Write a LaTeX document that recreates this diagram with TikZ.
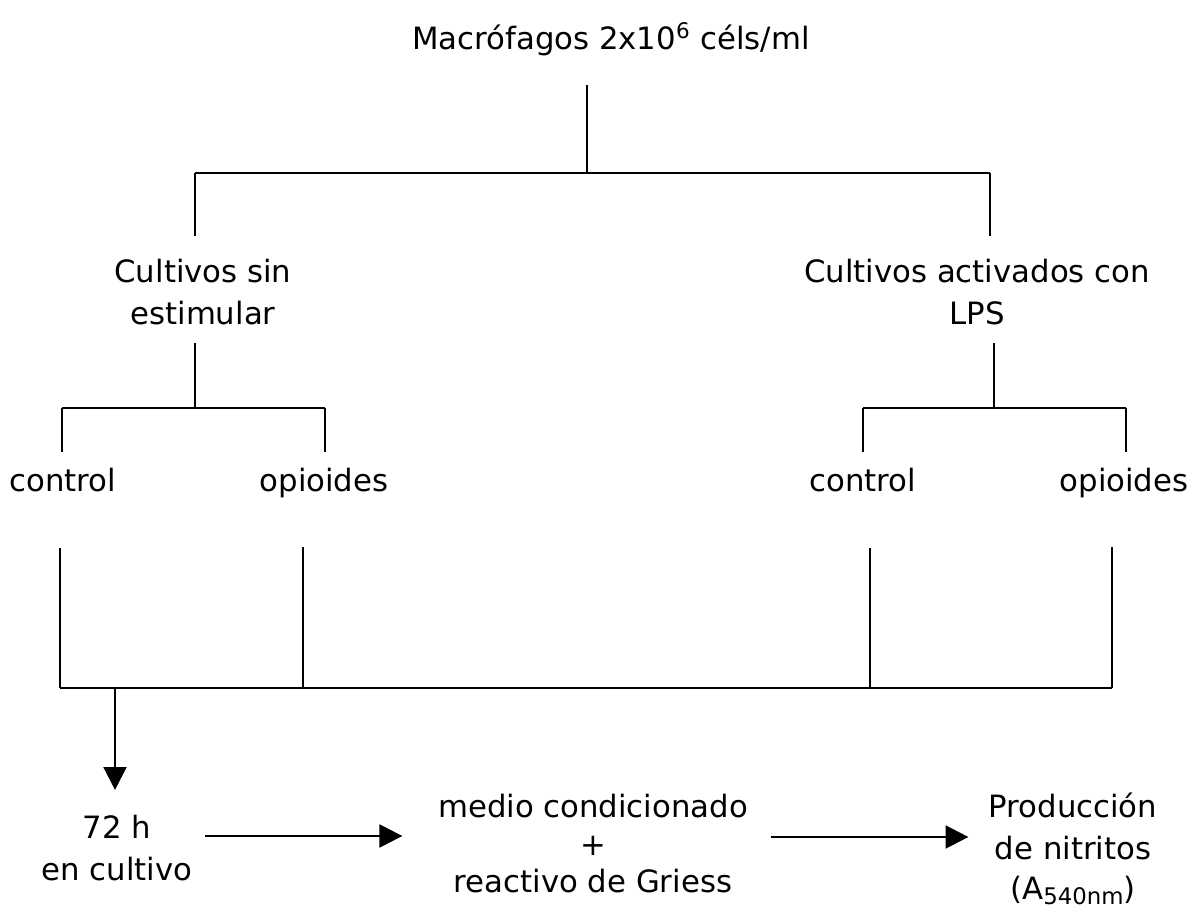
\documentclass[tikz,border=0pt]{standalone}
\usepackage{fontspec}
\setmainfont{DejaVu Sans}
\usepackage{tikz}
\usetikzlibrary{arrows.meta, calc}

\tikzset{
	lbl/.style={inner sep=0pt, outer sep=0pt, align=center, font=\fontsize{17.5}{23.8}\selectfont},
	wire/.style={line width=1.4pt},
	flecha/.style={wire, -{Triangle[length=13pt, width=13pt]}}
}

\begin{document}
\begin{tikzpicture}[x=0.02cm, y=-0.02cm]
				  \useasboundingbox (0,0) rectangle (1200,911);
				  \node[lbl, anchor=base] (macro) at (611,50) {Macrófagos 2x10\textsuperscript{6} céls/ml};
				  \node[lbl, anchor=north] (sin) at (203,259.5) {Cultivos sin\\estimular};
				  \node[lbl, anchor=north] (lps) at (977,259.5) {Cultivos activados con\\LPS};
				  \node[lbl, anchor=base] (ctl1) at (63,492) {control};
				  \node[lbl, anchor=base] (opi1) at (324,492) {opioides};
				  \node[lbl, anchor=base] (ctl2) at (863,492) {control};
				  \node[lbl, anchor=base] (opi2) at (1124,492) {opioides};
				  \node[lbl, anchor=north] (cult) at (117,815.4) {72 h\\en cultivo};
				  \node[lbl, anchor=north] (medio) at (593,794) {medio condicionado\\[-2.3pt]+\\[-2.3pt]reactivo de Griess};
				  \node[lbl, anchor=north] (prod) at (1073,793) {Producción\\de nitritos\\[-1pt](A\raisebox{-3pt}{\fontsize{13}{13}\selectfont 540nm})};
				  \coordinate (t0) at (587,173);
				  \coordinate (t1) at (195,173);
				  \coordinate (t2) at (990,173);
				  \coordinate (s0) at (195,408);
				  \coordinate (s1) at (62,408);
				  \coordinate (s2) at (325,408);
				  \coordinate (a0) at (994,408);
				  \coordinate (a1) at (863,408);
				  \coordinate (a2) at (1126,408);
				  \coordinate (b0) at (115,688);
				  \coordinate (b1) at (60,688);
				  \coordinate (b2) at (303,688);
				  \coordinate (b3) at (870,688);
				  \coordinate (b4) at (1112,688);
				  \coordinate (r0) at (0,836);
				  \coordinate (r1) at (0,837);
				  \draw[wire, shorten <=16.3pt] (macro.south -| t0) -- (t0);
				  \draw[wire] (t1) -- (t2);
				  \draw[wire, shorten >=13.3pt] (t1) -- (t1 |- sin.north);
				  \draw[wire, shorten >=13.3pt] (t2) -- (t2 |- lps.north);
				  \draw[wire, shorten <=10.2pt] (s0 |- sin.south) -- (s0);
				  \draw[wire] (s1) -- (s2);
				  \draw[wire, shorten >=9.3pt] (s1) -- (s1 |- ctl1.north);
				  \draw[wire, shorten >=9.3pt] (s2) -- (s2 |- opi1.north);
				  \draw[wire, shorten <=10.2pt] (a0 |- lps.south) -- (a0);
				  \draw[wire] (a1) -- (a2);
				  \draw[wire, shorten >=9.3pt] (a1) -- (a1 |- ctl2.north);
				  \draw[wire, shorten >=9.3pt] (a2) -- (a2 |- opi2.north);
				  \draw[wire, shorten <=31.7pt] (b1 |- ctl1.south) -- (b1);
				  \draw[wire, shorten <=27.6pt] (b2 |- opi1.south) -- (b2);
				  \draw[wire, shorten <=31.7pt] (b3 |- ctl2.south) -- (b3);
				  \draw[wire, shorten <=27.6pt] (b4 |- opi2.south) -- (b4);
				  \draw[wire] (b1) -- (b4);
				  \draw[flecha, shorten >=14.5pt] (b0) -- (b0 |- cult.north);
				  \draw[flecha, shorten <=7.4pt, shorten >=20.4pt] (cult.east |- r0) -- (medio.west |- r0);
				  \draw[flecha, shorten <=13pt, shorten >=11.6pt] (medio.east |- r1) -- (prod.west |- r1);
				\end{tikzpicture}
\end{document}
